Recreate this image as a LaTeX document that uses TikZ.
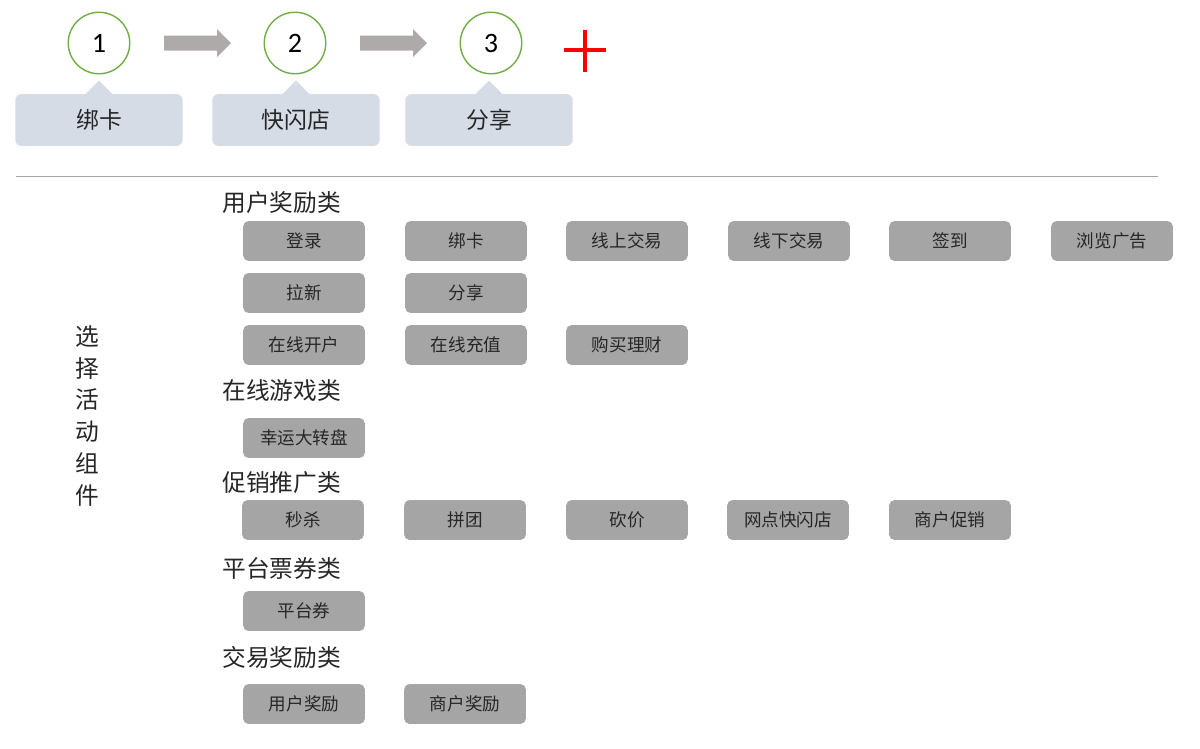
\documentclass[tikz,border=0pt]{standalone}
\usepackage{fontspec}
\setmainfont{Noto Sans CJK SC}
\newfontfamily\numfont{Carlito}
\usepackage{tikz}
\usetikzlibrary{calc}
\definecolor{stepgreen}{HTML}{70AD47}
\definecolor{calloutfill}{HTML}{D6DCE5}
\definecolor{arrowgray}{HTML}{AEAAAA}
\definecolor{btngray}{HTML}{A5A5A5}
\definecolor{rulegray}{HTML}{A6A6A6}
\definecolor{txtdark}{HTML}{262626}

\begin{document}
\begin{tikzpicture}[x=0.02cm, y=-0.02cm,
  stepnum/.style={circle, draw=stepgreen, thick, fill=white, minimum size=35pt, inner sep=0pt,
    font=\numfont\fontsize{16}{16}\selectfont},
  callout/.style={fill=calloutfill, rounded corners=3.5pt, minimum width=95.3pt, minimum height=29.5pt,
    inner sep=0pt, font=\fontsize{13}{13}\selectfont, text=txtdark},
  btn/.style={fill=btngray, rounded corners=3pt, minimum width=69.2pt, minimum height=22.7pt,
    inner sep=0pt, font=\fontsize{10}{10}\selectfont, text=txtdark},
  cat/.style={anchor=west, inner sep=0pt, font=\fontsize{13.5}{13.5}\selectfont, text=txtdark},
  blockarrow/.style={fill=arrowgray}]
  \useasboundingbox (0,0) rectangle (1200,748);

  % steps
  \node[stepnum] (n1) at (99,43) {1};
  \node[stepnum] (n2) at (295,43) {2};
  \node[stepnum] (n3) at (491,43) {3};

  \coordinate (a1) at ($(n1)!0.5!(n2)$);
  \coordinate (a2) at ($(n2)!0.5!(n3)$);
  \fill[blockarrow, shift={(a1)}] (-33,-7.5) -- (20,-7.5) -- (20,-14) -- (34,0) -- (20,14) -- (20,7.5) -- (-33,7.5) -- cycle;
  \fill[blockarrow, shift={(a2)}] (-33,-7.5) -- (20,-7.5) -- (20,-14) -- (34,0) -- (20,14) -- (20,7.5) -- (-33,7.5) -- cycle;

  \draw[red, line width=2.3pt] (564,50) -- (606,50) (585,30) -- (585,72);

  % callouts
  \node[callout] (c1) at (99,120) {绑卡};
  \node[callout] (c2) at (296,120) {快闪店};
  \node[callout] (c3) at (489,120) {分享};
  \fill[calloutfill] ($(c1.north)+(-14,1)$) -- ($(c1.north)+(0,-13)$) -- ($(c1.north)+(14,1)$) -- cycle;
  \fill[calloutfill] ($(c2.north)+(-14,1)$) -- ($(c2.north)+(0,-13)$) -- ($(c2.north)+(14,1)$) -- cycle;
  \fill[calloutfill] ($(c3.north)+(-14,1)$) -- ($(c3.north)+(0,-13)$) -- ($(c3.north)+(14,1)$) -- cycle;

  \draw[rulegray] (16,176) -- (1158,176);

  \node[align=center, inner sep=0pt, font=\fontsize{13.5}{18.2}\selectfont, text=txtdark] (side) at (87,416)
    {选\\择\\活\\动\\组\\件};

  % user rewards
  \node[cat] (k1) at (222,202) {用户奖励类};
  \node[btn] (u1) at (304,241) {登录};
  \node[btn] (u2) at (466,241) {绑卡};
  \node[btn] (u3) at (627,241) {线上交易};
  \node[btn] (u4) at (789,241) {线下交易};
  \node[btn] (u5) at (950,241) {签到};
  \node[btn] (u6) at (1112,241) {浏览广告};
  \node[btn] (u7) at (304,293) {拉新};
  \node[btn] (u8) at (466,293) {分享};
  \node[btn] (u9) at (304,345) {在线开户};
  \node[btn] (u10) at (466,345) {在线充值};
  \node[btn] (u11) at (627,345) {购买理财};

  % online games
  \node[cat] (k2) at (222,391) {在线游戏类};
  \node[btn] (g1) at (304,438) {幸运大转盘};

  % promotion
  \node[cat] (k3) at (222,483) {促销推广类};
  \node[btn] (p1) at (303,520) {秒杀};
  \node[btn] (p2) at (465,520) {拼团};
  \node[btn] (p3) at (627,520) {砍价};
  \node[btn] (p4) at (788,520) {网点快闪店};
  \node[btn] (p5) at (950,520) {商户促销};

  % platform coupons
  \node[cat] (k4) at (222,568) {平台票券类};
  \node[btn] (t1) at (304,611) {平台券};

  % trade rewards
  \node[cat] (k5) at (222,657) {交易奖励类};
  \node[btn] (r1) at (304,704) {用户奖励};
  \node[btn] (r2) at (465,704) {商户奖励};
\end{tikzpicture}
\end{document}
